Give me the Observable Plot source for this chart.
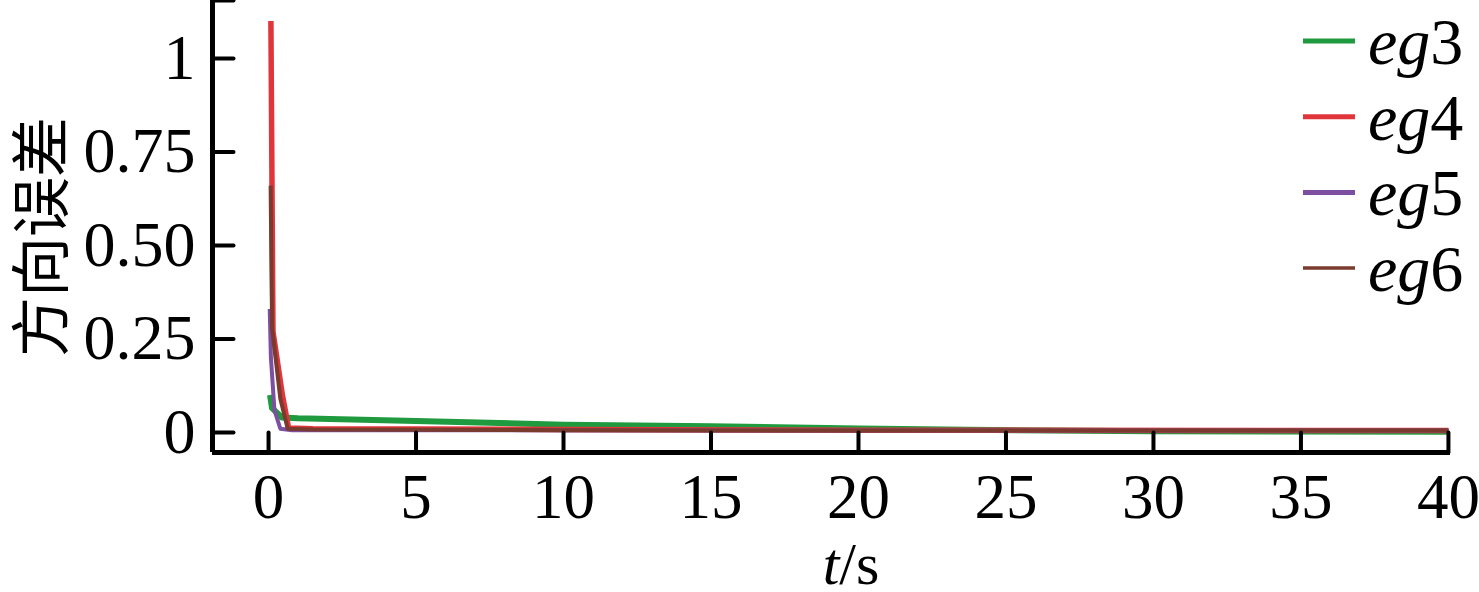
<!DOCTYPE html>
<html><head><meta charset="utf-8">
<script src="https://cdn.jsdelivr.net/npm/d3@7"></script>
<script src="https://cdn.jsdelivr.net/npm/@observablehq/plot@0.6"></script>
<style>body{margin:0;background:#fff}#chart{width:1479px;height:592px}</style>
</head><body><div id="chart"></div>
<script>
const seriesNames = ["eg3", "eg4", "eg5", "eg6"];
const seriesColors = ["#1f9a3e", "#e0363b", "#7c4fa0", "#7a3a2d"];
const seriesWidths = [6, 5.5, 4, 4];

const eg3T = [0.05, 0.12, 0.45, 1, 5, 10, 15, 20, 23.7, 30, 40];
const eg3V = [0.10, 0.065, 0.040, 0.038, 0.031, 0.021, 0.017, 0.011, 0.007, 0.003, 0.002];
const eg4T = [0.08, 0.15, 0.47, 0.68, 1.5, 10, 20, 40];
const eg4V = [1.10, 0.27, 0.10, 0.012, 0.010, 0.008, 0.006, 0.005];
const eg5T = [0.04, 0.08, 0.2, 0.4, 0.8, 40];
const eg5V = [0.33, 0.20, 0.06, 0.010, 0.006, 0.005];
const eg6T = [0.07, 0.12, 0.40, 0.65, 1.5, 10, 20, 40];
const eg6V = [0.66, 0.28, 0.09, 0.010, 0.008, 0.006, 0.005, 0.005];

const xTicks = [0, 5, 10, 15, 20, 25, 30, 35, 40];
const xTickLabels = ["0", "5", "10", "15", "20", "25", "30", "35", "40"];
const yTicks = [0, 0.25, 0.5, 0.75, 1];
const yTickLabels = ["0", "0.25", "0.50", "0.75", "1"];
const xDomain = [-1.9, 40.07];
const yDomain = [-0.0535, 1.155];
const yTitle = "方向误差";
const xTitle = "t/s";

const allT = [eg3T, eg4T, eg5T, eg6T];
const allV = [eg3V, eg4V, eg5V, eg6V];
const rows = [];
seriesNames.forEach((name, i) => allT[i].forEach((t, j) => rows.push({series: name, t, v: allV[i][j]})));

const serif = "Liberation Serif, Times New Roman, serif";
const tickShape = {draw(context, length) { context.moveTo(0, 0); context.lineTo(0, -length); }};

const lineMarks = seriesNames.map((name, i) =>
  Plot.line(rows.filter(d => d.series === name), {
    x: "t", y: "v", stroke: seriesColors[i], strokeWidth: seriesWidths[i],
    strokeLinejoin: "round", strokeLinecap: "butt"
  })
);

const chart = Plot.plot({
  width: 1479, height: 592,
  marginLeft: 212, marginRight: 29, marginTop: 0, marginBottom: 140,
  style: {background: "#fff", color: "#000"},
  x: {domain: xDomain, axis: null},
  y: {domain: yDomain, axis: null},
  marks: [
    ...lineMarks,
    Plot.ruleX([xDomain[0]], {stroke: "#000", strokeWidth: 5}),
    Plot.ruleY([yDomain[0]], {stroke: "#000", strokeWidth: 5}),
    Plot.vector([...yTicks, yDomain[1]], {x: () => xDomain[0], y: d => d, length: 21, rotate: 90, anchor: "start", shape: tickShape, stroke: "#000", strokeWidth: 4}),
    Plot.vector(xTicks, {x: d => d, y: () => yDomain[0], length: 20, rotate: 0, anchor: "start", shape: tickShape, stroke: "#000", strokeWidth: 4}),
    Plot.axisX(xTicks, {tickSize: 0, tickPadding: 21, fontSize: 63, fontFamily: serif, tickFormat: (d, i) => xTickLabels[i], label: null}),
    Plot.axisY(yTicks, {tickSize: 0, tickPadding: 17, fontSize: 64, fontFamily: serif, tickFormat: (d, i) => yTickLabels[i], label: null})
  ]
});

document.getElementById("chart").appendChild(chart);
const svg = d3.select(chart);

// axis titles (pixel layout)
svg.append("text")
  .attr("transform", "translate(36,237) rotate(-90)")
  .attr("text-anchor", "middle").attr("dominant-baseline", "central")
  .attr("font-family", "Noto Sans CJK SC").attr("font-size", 60).attr("fill", "#000")
  .text(yTitle);

const xt = svg.append("text").attr("x", 851).attr("y", 584)
  .attr("text-anchor", "middle").attr("font-family", serif).attr("font-size", 60).attr("fill", "#000");
xt.append("tspan").attr("font-style", "italic").text(xTitle.slice(0, 1));
xt.append("tspan").text(xTitle.slice(1));

// legend (layout in pixels, top-right)
const legend = svg.append("g");
seriesNames.forEach((name, i) => {
  const ly = 41 + i * 75.7;
  legend.append("line").attr("x1", 1303).attr("x2", 1355).attr("y1", ly).attr("y2", ly)
    .attr("stroke", seriesColors[i]).attr("stroke-width", i === 3 ? 3.5 : 5);
  const t = legend.append("text").attr("x", 1368).attr("y", ly + 23)
    .attr("text-anchor", "start")
    .attr("font-family", serif).attr("font-size", 66).attr("fill", "#000");
  t.append("tspan").attr("font-style", "italic").text(name.slice(0, 2));
  t.append("tspan").text(name.slice(2));
});
</script>
</body></html>
